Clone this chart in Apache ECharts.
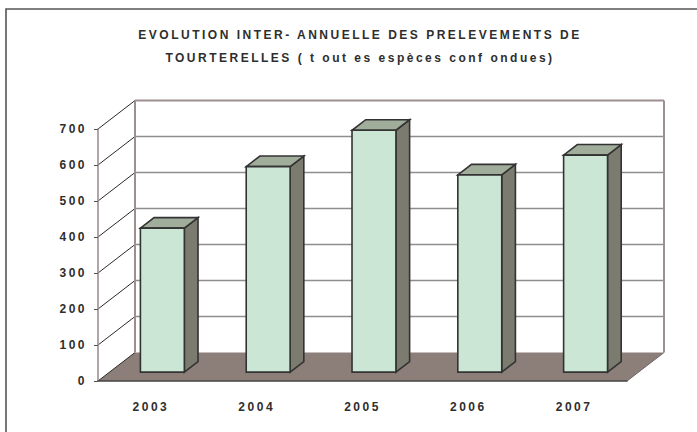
<!DOCTYPE html>
<html><head><meta charset="utf-8">
<script src="https://cdn.jsdelivr.net/npm/echarts@6/dist/echarts.min.js"></script>
<style>
html,body{margin:0;padding:0;background:#fff}
#main{width:697px;height:432px}
#main text{letter-spacing:2.5px}
</style></head><body><div id="main"></div>
<script>
// ---- data ----
const titleLines = ['EVOLUTION INTER- ANNUELLE DES PRELEVEMENTS DE', 'TOURTERELLES ( t out es espèces conf ondues)'];
const categories = ['2003', '2004', '2005', '2006', '2007'];
const values = [400, 571, 672, 548, 603];
const yTicks = [0, 100, 200, 300, 400, 500, 600, 700];

// ---- 3D look (styles) ----
const DX = 37, DY = -28.5;      // depth vector of the box
const BAR_F = 0.31;             // front of bars, fraction of depth
const BAR_D = 0.37;             // bar depth, fraction of depth
const BAR_W = 0.415;            // bar width, fraction of category
const FONT = 'Liberation Sans, Arial, sans-serif';

const chart = echarts.init(document.getElementById('main'), null, {renderer: 'svg'});
const yMax = yTicks[yTicks.length - 1];

function wallItem(params, api) {
  const cs = params.coordSys;
  const left = cs.x, right = cs.x + cs.width;
  const v = api.value(1);
  const y = api.coord([0, v])[1];
  const y0 = api.coord([0, 0])[1];
  const ch = [];
  if (v === 0) {
    ch.push({type: 'polygon', shape: {points: [[left, y], [right, y], [right + DX, y + DY], [left + DX, y + DY]]},
      style: {fill: '#8c7f7a', stroke: null}});
    ch.push({type: 'line', shape: {x1: right, y1: y, x2: right + DX, y2: y + DY},
      style: {stroke: '#6e6462', lineWidth: 1}});
  }
  ch.push({type: 'line', shape: {x1: left, y1: y, x2: left + DX, y2: y + DY},
    style: {stroke: '#2a2a2a', lineWidth: 1}});
  if (v > 0 && v < yMax) {
    ch.push({type: 'line', shape: {x1: left + DX, y1: y + DY, x2: right + DX, y2: y + DY},
      style: {stroke: '#8e8e8e', lineWidth: 1.6}});
  }
  if (v === yMax) {
    const edge = {stroke: '#9d8f8f', lineWidth: 2};
    ch.push({type: 'line', shape: {x1: left + DX, y1: y + DY, x2: right + DX, y2: y + DY}, style: edge});
    ch.push({type: 'line', shape: {x1: left + DX, y1: y + DY, x2: left + DX, y2: y0 + DY}, style: edge});
    ch.push({type: 'line', shape: {x1: right + DX, y1: y + DY, x2: right + DX, y2: y0 + DY}, style: edge});
  }
  return {type: 'group', children: ch};
}

function barItem(params, api) {
  const idx = api.value(0), val = api.value(1);
  const base = api.coord([idx, 0]);
  const top = api.coord([idx, val]);
  const cw = api.size([1, 0])[0];
  const w = cw * BAR_W;
  const ox = BAR_F * DX, oy = BAR_F * DY;
  const bx = BAR_D * DX, by = BAR_D * DY;
  const xl = base[0] - w / 2 + ox, xr = base[0] + w / 2 + ox;
  const yb = base[1] + oy, yt = top[1] + oy;
  const st = {stroke: '#333333', lineWidth: 1.6, lineJoin: 'miter'};
  return {type: 'group', children: [
    {type: 'polygon', shape: {points: [[xr, yb], [xr, yt], [xr + bx, yt + by], [xr + bx, yb + by]]},
      style: Object.assign({fill: '#7b7b6f'}, st)},
    {type: 'polygon', shape: {points: [[xl, yt], [xr, yt], [xr + bx, yt + by], [xl + bx, yt + by]]},
      style: Object.assign({fill: '#a1ad9b'}, st)},
    {type: 'polygon', shape: {points: [[xl, yb], [xr, yb], [xr, yt], [xl, yt]]},
      style: Object.assign({fill: '#cce6d6'}, st)}
  ]};
}

chart.setOption({
  animation: false,
  backgroundColor: '#ffffff',
  title: {
    text: titleLines.join('\n'),
    left: 360, top: 23, padding: 0, textAlign: 'center',
    textStyle: {fontFamily: FONT, fontSize: 12, fontWeight: 'bold', color: '#2e2e2e', lineHeight: 23}
  },
  graphic: [{type: 'rect', shape: {x: 6, y: 9, width: 720, height: 460},
    style: {fill: null, stroke: '#555555', lineWidth: 1.6}, silent: true, z: -1}],
  grid: {left: 98, right: 70, top: 129, bottom: 51, containLabel: false},
  xAxis: {
    type: 'category', data: categories, boundaryGap: true, z: 10,
    axisLine: {lineStyle: {color: '#444444', width: 1.6}},
    axisTick: {alignWithLabel: false, length: 7, lineStyle: {color: '#8a8a8a', width: 1.2}},
    axisLabel: {margin: 20, fontFamily: FONT, fontSize: 12, fontWeight: 'bold', color: '#2e2e2e'},
    splitLine: {show: false}
  },
  yAxis: {
    type: 'value', min: 0, max: yMax, interval: 100, z: 10,
    axisLine: {show: true, lineStyle: {color: '#9d8f8f', width: 1.6}},
    axisTick: {show: true, length: 4, lineStyle: {color: '#555555', width: 1}},
    axisLabel: {margin: 11, fontFamily: FONT, fontSize: 12, fontWeight: 'bold', color: '#2e2e2e'},
    splitLine: {show: false}
  },
  series: [
    {type: 'custom', name: 'walls', coordinateSystem: 'cartesian2d', clip: false, silent: true, z: 1,
      data: yTicks.map(v => [0, v]), renderItem: wallItem},
    {type: 'custom', name: 'Prélèvements', coordinateSystem: 'cartesian2d', clip: false, z: 5,
      data: values.map((v, i) => [i, v]), renderItem: barItem}
  ]
});
</script></body></html>
